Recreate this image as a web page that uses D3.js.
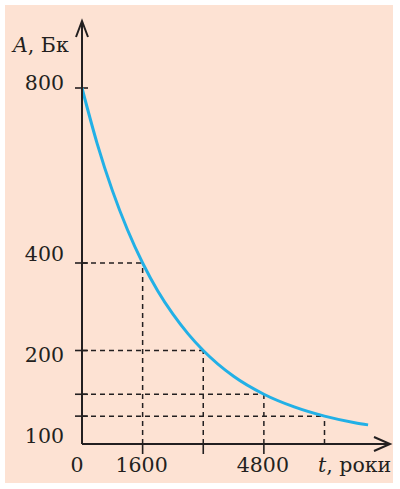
<!DOCTYPE html>
<html>
<head>
<meta charset="utf-8">
<script src="https://cdn.jsdelivr.net/npm/d3@7"></script>
<style>
  html, body { margin: 0; padding: 0; background: #fff; }
  svg { display: block; }
  text { font-family: "DejaVu Serif", serif; font-size: 20.5px; fill: #231f20; }
</style>
</head>
<body>
<script>
// decay curve: time (years) and activity (Bq)
const years = [0, 400, 800, 1200, 1600, 2000, 2400, 2800, 3200, 4000, 4800, 5600, 6400, 7200, 7550]
const activity = [800, 673, 566, 476, 400, 336, 283, 238, 200, 141, 100, 71, 50, 35, 30]

// half-life marks: dashed guides go from each axis to the curve
const markYears = [1600, 3200, 4800, 6400]
const markActivity = [400, 200, 100, 50]

// labels as printed
const xTickValues = [0, 1600, 4800]
const xTickLabels = ["0", "1600", "4800"]
const yTickValues = [800, 400, 200, 100]
const yTickLabels = ["800", "400", "200", "100"]
const yLabelShift = [2, -2, 11, 49]

const width = 400, height = 489

const svg = d3.select("body").append("svg")
  .attr("width", width)
  .attr("height", height)

svg.append("rect")
  .attr("x", 5).attr("y", 5)
  .attr("width", 388).attr("height", 478)
  .attr("fill", "#fde2d3")

const x = d3.scaleLinear().domain([0, 6400]).range([82, 324.5])
const y = d3.scaleLinear().domain([0, 800]).range([438, 88])

const axisY = 444
const ink = "#231f20"

// dashed guides
const marks = markYears.map((t, i) => ({t: t, a: markActivity[i]}))

svg.selectAll(".guide-h")
  .data(marks)
  .enter()
  .append("line")
  .attr("x1", x(0)).attr("x2", d => x(d.t))
  .attr("y1", d => y(d.a)).attr("y2", d => y(d.a))
  .attr("stroke", ink).attr("stroke-width", 1.5)
  .attr("stroke-dasharray", "5,4")

svg.selectAll(".guide-v")
  .data(marks)
  .enter()
  .append("line")
  .attr("x1", d => x(d.t)).attr("x2", d => x(d.t))
  .attr("y1", axisY).attr("y2", d => y(d.a))
  .attr("stroke", ink).attr("stroke-width", 1.5)
  .attr("stroke-dasharray", "5,4")

// small ticks: left of the y axis, below the x axis
svg.selectAll(".tick-y")
  .data(markActivity.concat([800]))
  .enter()
  .append("line")
  .attr("x1", x(0) - 7).attr("x2", x(0) + 6)
  .attr("y1", d => y(d)).attr("y2", d => y(d))
  .attr("stroke", ink).attr("stroke-width", 1.6)

svg.selectAll(".tick-x")
  .data(markYears.slice(0, 3))
  .enter()
  .append("line")
  .attr("x1", d => x(d)).attr("x2", d => x(d))
  .attr("y1", axisY).attr("y2", axisY + 10)
  .attr("stroke", ink).attr("stroke-width", 1.6)

// curve
const line = d3.line()
  .x((d, i) => x(years[i]))
  .y(d => y(d))
  .curve(d3.curveMonotoneX)

svg.append("path")
  .datum(activity)
  .attr("d", line)
  .attr("fill", "none")
  .attr("stroke", "#22b0e6")
  .attr("stroke-width", 3)

// axes with open arrowheads
svg.append("path")
  .attr("d", "M" + x(0) + "," + axisY + "V21M" + (x(0) - 6) + ",37L" + x(0) + ",21L" + (x(0) + 6) + ",37")
  .attr("fill", "none").attr("stroke", ink).attr("stroke-width", 2)

svg.append("path")
  .attr("d", "M" + x(0) + "," + axisY + "H390M374," + (axisY - 7) + "L390," + axisY + "L374," + (axisY + 7))
  .attr("fill", "none").attr("stroke", ink).attr("stroke-width", 2)

// tick labels
svg.selectAll(".label-y")
  .data(yTickValues)
  .enter()
  .append("text")
  .attr("x", 64)
  .attr("y", (d, i) => y(d) + yLabelShift[i])
  .attr("text-anchor", "end")
  .text((d, i) => yTickLabels[i])

svg.selectAll(".label-x")
  .data(xTickValues)
  .enter()
  .append("text")
  .attr("x", (d, i) => x(d) - (i == 0 ? 5 : 1))
  .attr("y", 472)
  .attr("text-anchor", "middle")
  .text((d, i) => xTickLabels[i])

// axis names
const yName = svg.append("text").attr("x", 13).attr("y", 52)
yName.append("tspan").attr("font-style", "italic").text("A")
yName.append("tspan").text(", Бк")

const xName = svg.append("text").attr("x", 318).attr("y", 472)
xName.append("tspan").attr("font-style", "italic").text("t")
xName.append("tspan").text(", роки")
</script>
</body>
</html>
